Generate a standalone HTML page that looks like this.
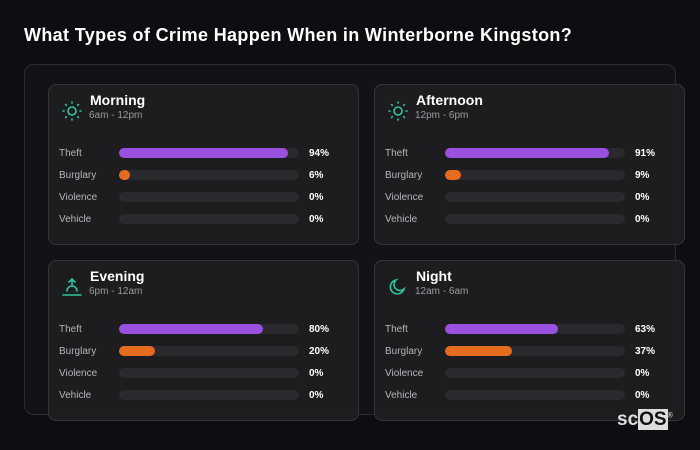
<!DOCTYPE html>
<html><head><meta charset="utf-8"><style>
*{margin:0;padding:0;box-sizing:border-box}
body{width:700px;height:450px;background:#0e0e12;font-family:"Liberation Sans",sans-serif;position:relative;overflow:hidden;color:#fff}
.title{position:absolute;left:24px;top:25px;font-size:18px;letter-spacing:0.35px;font-weight:bold;color:#fff}
.outer{position:absolute;left:24px;top:64px;width:652px;height:351px;border:1px solid #2c2c32;border-radius:10px;background:#131317}
.card{position:absolute;width:311px;height:161px;border:1px solid #34343a;border-radius:8px;background:rgba(30,30,34,0.92)}
.card .ic{position:absolute;left:12px;top:15px;width:22px;height:22px}
.card .nm{position:absolute;left:41px;top:7px;font-size:14px;font-weight:bold}
.card .sub{position:absolute;left:40px;top:25px;font-size:10px;color:#9a9aa0}
.row{position:absolute;left:10px;height:14px;width:300px}
.row .lb{position:absolute;left:0;top:2px;font-size:10px;color:#b4b4ba}
.row .tr{position:absolute;left:60px;top:2px;width:180px;height:10px;border-radius:5px;background:#29292e}
.row .br{position:absolute;left:0;top:0;height:10px;border-radius:5px}
.row .vl{position:absolute;left:250px;top:2px;font-size:10px;font-weight:bold;color:#fff}
.logo{position:absolute;left:617px;top:409px;font-size:19px;font-weight:bold;color:#ddd;letter-spacing:0}
.logo span{background:#ddd;color:#111;padding:0 1px}
</style></head><body>
<div class="title">What Types of Crime Happen When in Winterborne Kingston?</div>
<div class="outer"></div>
<div id="cards"></div>
<div class="logo">sc<span>OS</span><sup style="font-size:7px;color:#ccc">®</sup></div>
<script>
const periods=["Morning","Afternoon","Evening","Night"];
const ranges=["6am - 12pm","12pm - 6pm","6pm - 12am","12am - 6am"];
const crimes=["Theft","Burglary","Violence","Vehicle"];
const theft=[94,91,80,63];
const burglary=[6,9,20,37];
const violence=[0,0,0,0];
const vehicle=[0,0,0,0];
const series=[theft,burglary,violence,vehicle];
const colors=["#9b51e0","#e56b1f","#29292e","#29292e"];
const icons={
Morning:'<circle cx="11" cy="11" r="4" fill="none" stroke="#2ec4a0" stroke-width="1.6"/><g stroke="#2ec4a0" stroke-width="1.6" stroke-linecap="round"><path d="M11 2v1M11 19v1M2 11h1M19 11h1M4.6 4.6l.7.7M16.7 16.7l.7.7M4.6 17.4l.7-.7M16.7 5.3l.7-.7"/></g>',
Evening:'<g stroke="#2ec4a0" stroke-width="1.6" fill="none" stroke-linecap="round"><path d="M2 19h18M6 15a5 5 0 0 1 10 0M11 3v7M8 6l3-3 3 3"/></g>',
Night:'<path d="M17 13A7 7 0 1 1 9 4a5.5 5.5 0 0 0 8 9z" fill="none" stroke="#2ec4a0" stroke-width="1.6"/>'};
icons.Afternoon=icons.Morning;
const wrap=document.getElementById('cards');
const w=180;
periods.forEach((p,i)=>{
 const c=document.createElement('div');
 c.className='card';
 
 
 c.style.left=(48+(i%2)*326)+'px';
 c.style.top=(84+Math.floor(i/2)*176)+'px';
 let h='<svg class="ic" viewBox="0 0 22 22">'+icons[p]+'</svg>';
 h+='<div class="nm">'+p+'</div>';
 h+='<div class="sub">'+ranges[i]+'</div>';
 c.innerHTML=h;
 crimes.forEach((cr,j)=>{
  const v=series[j][i];
  const r=document.createElement('div');
  r.className='row';
  
  
  r.style.top=(61+j*22)+'px';
  r.innerHTML='<div class="lb">'+cr+'</div><div class="tr"><div class="br" style="width:'+(v>0?Math.max(10,v/100*w):0)+'px;background:'+colors[j]+'"></div></div><div class="vl">'+v+'%</div>';
  const b=r.querySelector('.br');
  
  
  c.appendChild(r);
 });
 wrap.appendChild(c);
});
</script>
</body></html>
